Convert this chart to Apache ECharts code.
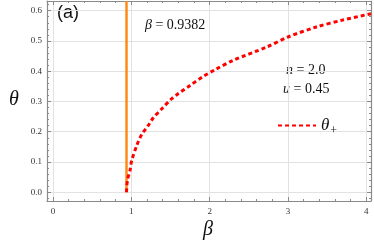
<!DOCTYPE html>
<html><head><meta charset="utf-8">
<script src="https://cdn.jsdelivr.net/npm/echarts@6/dist/echarts.min.js"></script>
<style>html,body{margin:0;padding:0;background:#fff}#c{width:374px;height:245px}</style>
</head><body><div id="c"></div>
<script>
const betaCrit = 0.9382;
const betaVals = [0.9382, 0.95, 0.983, 1.005, 1.07, 1.133, 1.217, 1.28, 1.39, 1.515, 1.6, 1.75, 1.92, 2.07, 2.3, 2.73, 3.0, 3.36, 3.7, 4.06];
const thetaPlus = [0.0, 0.04, 0.072, 0.105, 0.155, 0.191, 0.221, 0.246, 0.276, 0.309, 0.326, 0.353, 0.383, 0.405, 0.436, 0.48, 0.513, 0.546, 0.569, 0.59];
const xRange = [-0.077, 4.06];
const yRange = [-0.029, 0.632];

const serif = '"Liberation Serif","DejaVu Serif",serif';
const axisCol = '#8a8a8a';
function xAx(pos, show) {
  return {
    type: 'value', position: pos, min: xRange[0], max: xRange[1], splitNumber: 4,
    axisLine: {show: true, onZero: false, lineStyle: {color: axisCol, width: 1.2}},
    axisTick: {show: true, inside: true, length: 4, lineStyle: {color: axisCol}},
    minorTick: {show: true, splitNumber: 5, length: 2, lineStyle: {color: axisCol}},
    axisLabel: {show: show, showMinLabel: false, showMaxLabel: false, color: '#333', fontFamily: serif, fontSize: 9, margin: 6,
      formatter: v => Math.round(v).toString()},
    splitLine: {show: show, lineStyle: {color: '#e2e2e2', width: 1}}
  };
}
function yAx(pos, show) {
  return {
    type: 'value', position: pos, min: yRange[0], max: yRange[1], splitNumber: 6,
    axisLine: {show: true, onZero: false, lineStyle: {color: axisCol, width: 1.2}},
    axisTick: {show: true, inside: true, length: 4, lineStyle: {color: axisCol}},
    minorTick: {show: true, splitNumber: 5, length: 2, lineStyle: {color: axisCol}},
    axisLabel: {show: show, showMinLabel: false, showMaxLabel: false, color: '#333', fontFamily: serif, fontSize: 9, margin: 5,
      formatter: v => v.toFixed(1)},
    splitLine: {show: show, lineStyle: {color: '#e2e2e2', width: 1}}
  };
}
const txt = (s, extra) => Object.assign({text: s, fontFamily: serif, fontSize: 14, fill: '#111',
  rich: {i: {fontStyle: 'italic', fontFamily: serif, fontSize: 14, fill: '#111'}}}, extra || {});
const chart = echarts.init(document.getElementById('c'), null, {renderer: 'canvas'});
chart.setOption({
  animation: false,
  grid: {left: 47, right: 3, top: 1, bottom: 44},
  xAxis: [xAx('bottom', true), xAx('top', false)],
  yAxis: [yAx('left', true), yAx('right', false)],
  legend: {
    left: 272, top: 112, itemWidth: 38, itemHeight: 10, itemGap: 4,
    data: [{name: 'θ+'}],
    itemStyle: {opacity: 0},
    formatter: () => '{a|θ}{b|+}',
    textStyle: {rich: {a: {fontFamily: serif, fontStyle: 'italic', fontSize: 17, color: '#111'},
                       b: {fontFamily: serif, fontSize: 12, color: '#111', padding: [10, 0, 0, 1]}}}
  },
  series: [
    {name: 'crit', type: 'line', xAxisIndex: 0, yAxisIndex: 0, symbol: 'none',
     data: [[betaCrit, 0], [betaCrit, yRange[1]]],
     lineStyle: {color: '#ff8a16', width: 2.5}},
    {name: 'θ+', type: 'line', xAxisIndex: 0, yAxisIndex: 0, symbol: 'none', smooth: 0.3,
     data: betaVals.map((b, i) => [b, thetaPlus[i]]),
     lineStyle: {color: '#ff0000', width: 3, type: [4, 3]}, itemStyle: {color: '#ff0000'}}
  ],
  graphic: [
    {type: 'text', left: 57, top: 4, style: {text: '(a)', fontFamily: '"Liberation Sans", Arial, sans-serif', fontSize: 18, fontStyle: 'normal', fill: '#111'}},
    {type: 'text', left: 145, top: 18, style: txt('{i|β} = 0.9382')},
    {type: 'text', left: 286, top: 63, style: txt('{i|n} = 2.0')},
    {type: 'text', left: 283, top: 82, style: txt('{i|u} = 0.45')},
    {type: 'text', left: 9, top: 90, style: {text: 'θ', fontFamily: serif, fontStyle: 'italic', fontSize: 20, fill: '#111'}},
    {type: 'text', left: 203, top: 220, style: {text: 'β', fontFamily: serif, fontStyle: 'italic', fontSize: 20, fill: '#111'}}
  ]
});
</script></body></html>
